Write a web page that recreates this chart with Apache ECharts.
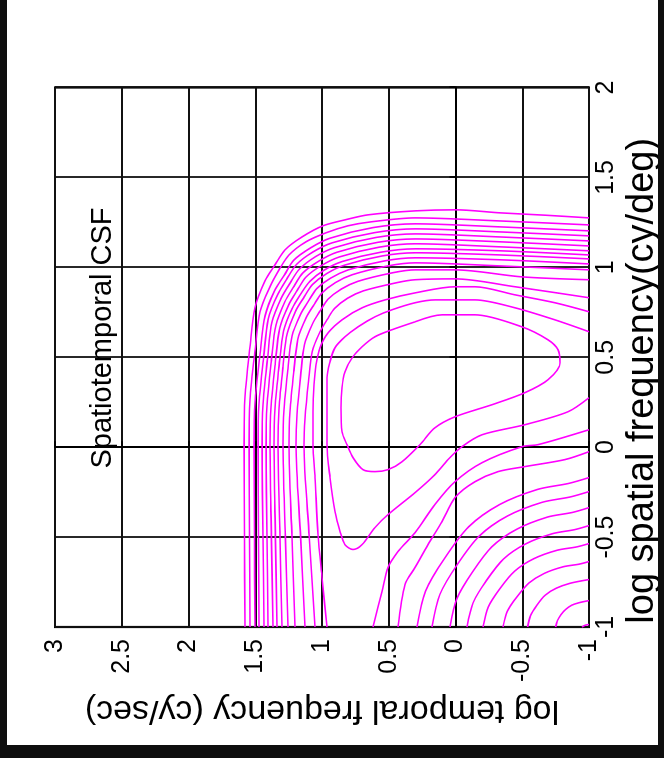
<!DOCTYPE html>
<html><head><meta charset="utf-8">
<script src="https://cdn.jsdelivr.net/npm/echarts/dist/echarts.min.js"></script>
<style>
html,body{margin:0;padding:0;background:#0e0e0e;width:664px;height:758px;overflow:hidden;}
#wrap{position:absolute;left:7px;top:745px;width:745px;height:651px;transform-origin:0 0;transform:rotate(-90deg);background:#fff;}
#chart{width:745px;height:651px;}
</style></head><body><div id="wrap"><div id="chart"></div></div>
<script>
// axis ticks
const spatialTicks = [-1, -0.5, 0, 0.5, 1, 1.5, 2];      // log spatial frequency (cy/deg)
const temporalTicks = [-1, -0.5, 0, 0.5, 1, 1.5, 2, 2.5, 3]; // log temporal frequency (cy/sec)

// contour lines, points are [log temporal freq, log spatial freq]
const c1 = [[0.303,0.697],[0.101,0.736],[-0.146,0.736],[-0.498,0.669],[-0.693,0.597],[-0.768,0.542],[-0.783,0.469],[-0.693,0.375],[-0.52,0.303],[-0.273,0.236],[0.004,0.169],[0.154,0.108],[0.266,0.014],[0.4,-0.081],[0.506,-0.125],[0.603,-0.136],[0.693,-0.125],[0.768,-0.058],[0.813,0.014],[0.85,0.086],[0.858,0.219],[0.85,0.331],[0.828,0.419],[0.775,0.497],[0.7,0.558],[0.603,0.614],[0.476,0.653],[0.303,0.697]];
const c2 = [[-1,0.642],[-0.745,0.708],[-0.446,0.775],[-0.146,0.819],[0.154,0.819],[0.303,0.803],[0.476,0.764],[0.603,0.725],[0.73,0.669],[0.828,0.614],[0.903,0.553],[0.94,0.475],[0.963,0.386],[0.963,0.275],[0.963,0.014],[0.94,-0.169],[0.903,-0.358],[0.865,-0.469],[0.828,-0.542],[0.768,-0.569],[0.7,-0.542],[0.603,-0.447],[0.506,-0.375],[0.303,-0.253],[0.154,-0.153],[0.056,-0.069],[-0.049,0.003],[-0.199,0.069],[-0.52,0.125],[-0.843,0.197],[-1,0.275]];
const c3 = [[0.963,-1],[1.0,-0.725],[1.03,-0.486],[1.052,-0.169],[1.067,0.014],[1.067,0.197],[1.06,0.347],[1.045,0.458],[1.015,0.553],[0.955,0.636],[0.85,0.708],[0.7,0.775],[0.528,0.819],[0.303,0.858],[0.004,0.892],[-0.146,0.892],[-0.446,0.847],[-0.745,0.803],[-1,0.753]];
const c4 = [[1.052,-1],[1.095,-0.5],[1.135,0.014],[1.127,0.158],[1.101,0.365],[1.073,0.532],[1.016,0.64],[0.96,0.711],[0.904,0.773],[0.809,0.828],[0.691,0.869],[0.438,0.915],[0.303,0.931],[0.004,0.936],[-0.446,0.892],[-1,0.831]];
const c5 = [[1.127,-1],[1.16,-0.5],[1.195,0.014],[1.187,0.181],[1.16,0.398],[1.131,0.571],[1.072,0.684],[1.014,0.758],[0.955,0.823],[0.856,0.879],[0.733,0.922],[0.47,0.97],[0.303,0.986],[0.004,0.986],[-0.498,0.947],[-1,0.931]];
const c6 = [[1.202,-1],[1.225,-0.5],[1.247,0.014],[1.24,0.199],[1.211,0.422],[1.181,0.599],[1.121,0.715],[1.061,0.791],[1.001,0.857],[0.9,0.915],[0.774,0.959],[0.506,1.008],[0.303,1.025],[-0.333,1.008],[-1,0.986]];
const c7 = [[1.255,-1],[1.274,-0.5],[1.292,0.014],[1.285,0.208],[1.255,0.436],[1.225,0.617],[1.163,0.735],[1.102,0.812],[1.04,0.881],[0.936,0.94],[0.803,0.986],[0.53,1.036],[0.303,1.053],[-0.333,1.042],[-1,1.019]];
const c8 = [[1.3,-1],[1.315,-0.5],[1.33,0.014],[1.322,0.214],[1.292,0.447],[1.261,0.633],[1.198,0.755],[1.135,0.834],[1.072,0.904],[0.965,0.965],[0.832,1.012],[0.551,1.063],[0.303,1.081],[-0.333,1.069],[-1,1.047]];
const c9 = [[1.337,-1],[1.349,-0.5],[1.36,0.014],[1.352,0.215],[1.321,0.454],[1.288,0.645],[1.225,0.769],[1.16,0.851],[1.091,0.922],[0.985,0.984],[0.85,1.032],[0.561,1.084],[0.303,1.103],[-0.333,1.092],[-1,1.069]];
const c10 = [[1.367,-1],[1.379,-0.5],[1.39,0.014],[1.382,0.222],[1.35,0.466],[1.317,0.662],[1.251,0.789],[1.185,0.872],[1.12,0.946],[1.007,1.009],[0.869,1.058],[0.573,1.112],[0.303,1.131],[-0.333,1.114],[-1,1.092]];
const c11 = [[1.404,-1],[1.412,-0.5],[1.419,0.014],[1.412,0.231],[1.379,0.481],[1.345,0.679],[1.278,0.809],[1.21,0.894],[1.143,0.969],[1.025,1.034],[0.888,1.084],[0.584,1.139],[0.303,1.158],[-0.333,1.142],[-1,1.119]];
const c12 = [[1.434,-1],[1.442,-0.5],[1.449,0.014],[1.442,0.236],[1.408,0.492],[1.375,0.697],[1.305,0.829],[1.236,0.916],[1.167,0.992],[1.049,1.059],[0.905,1.11],[0.596,1.166],[0.303,1.186],[-0.333,1.169],[-1,1.147]];
const c13 = [[1.472,-1],[1.476,-0.5],[1.479,0.014],[1.472,0.242],[1.437,0.504],[1.402,0.713],[1.332,0.849],[1.262,0.937],[1.191,1.016],[1.071,1.084],[0.925,1.136],[0.606,1.193],[0.303,1.214],[-0.333,1.197],[-1,1.175]];
const c14 = [[1.502,-1],[1.506,-0.5],[1.509,0.014],[1.502,0.247],[1.464,0.517],[1.426,0.731],[1.356,0.869],[1.281,0.958],[1.213,1.039],[1.086,1.108],[0.94,1.162],[0.618,1.221],[0.303,1.242],[-0.333,1.225],[-1,1.203]];
const c15 = [[1.539,-1],[1.543,-0.5],[1.547,0.014],[1.539,0.264],[1.502,0.536],[1.464,0.753],[1.39,0.892],[1.322,0.986],[1.247,1.069],[1.12,1.142],[0.97,1.192],[0.805,1.231],[0.633,1.253],[0.303,1.275],[-0.333,1.258],[-1,1.236]];
const c16 = [[1.577,-1],[1.581,-0.5],[1.584,0.014],[1.577,0.281],[1.539,0.558],[1.502,0.776],[1.427,0.925],[1.352,1.014],[1.277,1.097],[1.15,1.169],[0.993,1.231],[0.828,1.264],[0.655,1.292],[0.303,1.314],[0.0,1.32],[-0.333,1.303],[-0.67,1.29],[-1,1.275]];
const b3 = [[0.618,-1],[0.551,-0.803],[0.506,-0.669],[0.431,-0.581],[0.303,-0.475],[0.154,-0.319],[0.004,-0.192],[-0.199,-0.086],[-0.498,0.003],[-0.618,0.014],[-1,0.097]];
const b4 = [[0.431,-1],[0.378,-0.764],[0.303,-0.669],[0.206,-0.542],[0.101,-0.414],[0.004,-0.281],[-0.146,-0.192],[-0.318,-0.136],[-0.52,-0.108],[-0.82,-0.069],[-1,-0.025]];
const b5 = [[0.288,-1],[0.224,-0.801],[0.082,-0.618],[-0.098,-0.443],[-0.33,-0.319],[-0.614,-0.235],[-0.845,-0.202],[-1,-0.169]];
const b6 = [[0.176,-1],[0.117,-0.819],[-0.012,-0.654],[-0.177,-0.495],[-0.388,-0.383],[-0.647,-0.307],[-0.859,-0.277],[-1,-0.247]];
const b7 = [[0.041,-1],[-0.011,-0.841],[-0.126,-0.695],[-0.271,-0.555],[-0.459,-0.456],[-0.688,-0.389],[-0.875,-0.363],[-1,-0.336]];
const b8 = [[-0.086,-1],[-0.132,-0.865],[-0.232,-0.741],[-0.36,-0.622],[-0.525,-0.538],[-0.726,-0.481],[-0.89,-0.459],[-1,-0.436]];
const b9 = [[-0.206,-1],[-0.246,-0.889],[-0.333,-0.787],[-0.444,-0.689],[-0.587,-0.62],[-0.762,-0.573],[-0.905,-0.555],[-1,-0.536]];
const b10 = [[-0.356,-1],[-0.388,-0.913],[-0.459,-0.833],[-0.549,-0.756],[-0.665,-0.702],[-0.807,-0.665],[-0.923,-0.651],[-1,-0.636]];
const b11 = [[-0.54,-1],[-0.562,-0.937],[-0.61,-0.879],[-0.672,-0.823],[-0.755,-0.784],[-0.858,-0.757],[-1,-0.736]];
const b12 = [[-0.75,-1],[-0.763,-0.965],[-0.79,-0.932],[-0.826,-0.902],[-0.87,-0.879],[-0.925,-0.865],[-1,-0.853]];
const b13 = [[-0.948,-1],[-0.972,-0.99],[-1,-0.986]];

const contours = [c1,c2,c3,c4,c5,c6,c7,c8,c9,c10,c11,c12,c13,c14,c15,c16,b3,b4,b5,b6,b7,b8,b9,b10,b11,b12,b13];

const FONT = '"Liberation Sans", Arial, Helvetica, sans-serif';
const chart = echarts.init(document.getElementById('chart'), null, {renderer:'canvas'});
const series = contours.map(c => ({
  type:'line', data: c.map(p => [p[1], p[0]]), symbol:'none', smooth:0.3,
  silent:true, animation:false, clip:true,
  lineStyle:{color:'#ff00ff', width:1.6}
}));
chart.setOption({
  animation:false,
  backgroundColor:'#fff',
  grid:{left:118, right:87.5, top:48, bottom:69, outerBoundsMode:'none', containLabel:false,
        show:true, borderColor:'#000', borderWidth:2.2, backgroundColor:'#fff'},
  xAxis:{type:'value', min:spatialTicks[0], max:spatialTicks[spatialTicks.length-1], interval:0.5,
    axisLine:{show:true, lineStyle:{color:'#000', width:2}},
    axisTick:{show:true, inside:true, length:6, lineStyle:{color:'#000', width:1.8}},
    axisLabel:{color:'#000', fontSize:25, fontFamily:FONT, margin:5},
    splitLine:{show:true, lineStyle:{color:'#111', width:1.8}},
    name:'log spatial frequency(cy/deg)', nameLocation:'middle', nameGap:30,
    nameTextStyle:{color:'#000', fontSize:38, fontFamily:FONT, padding:[0,47,0,0]}},
  yAxis:{type:'value', min:temporalTicks[0], max:temporalTicks[temporalTicks.length-1], interval:0.5,
    axisLine:{show:true, lineStyle:{color:'#000', width:2}},
    axisTick:{show:true, inside:true, length:6, lineStyle:{color:'#000', width:1.8}},
    axisLabel:{color:'#000', fontSize:25, fontFamily:FONT, margin:12},
    splitLine:{show:true, lineStyle:{color:'#111', width:1.8}},
    name:'log temporal frequency (cy/sec)', nameLocation:'middle', nameGap:57,
    nameTextStyle:{color:'#000', fontSize:34, fontFamily:FONT}},
  graphic:[{type:'text', x:407, y:96, z:100,
    style:{text:'Spatiotemporal CSF', fontSize:29, fontFamily:FONT, fill:'#000', align:'center', verticalAlign:'middle'}}],
  series: series
});
</script></body></html>
